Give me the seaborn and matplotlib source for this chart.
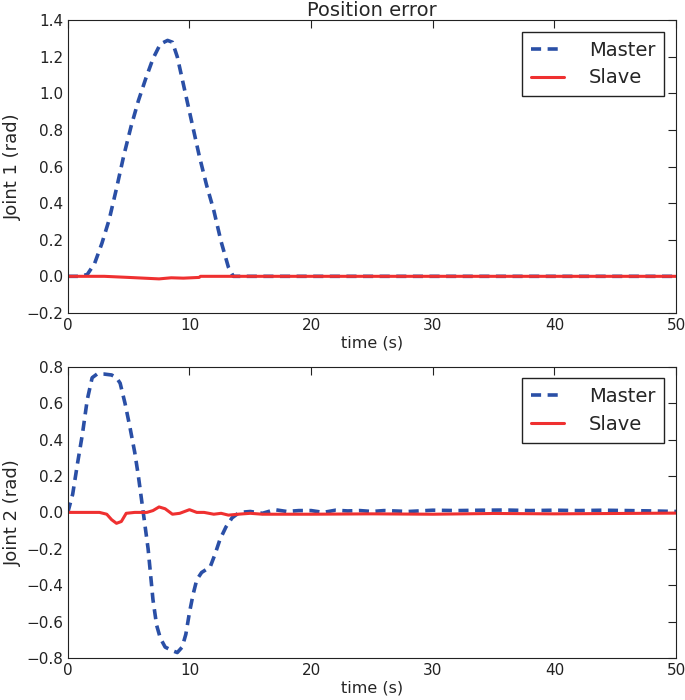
import pandas as pd
import matplotlib
matplotlib.use('Agg')
import matplotlib.pyplot as plt
import seaborn as sns

# ==================================================
# Dados
# ==================================================
t_master1 = [0, 1, 1.6, 2.2, 2.8, 3.4, 4.0, 4.6, 5.2, 5.8, 6.4, 7.0, 7.6, 8.2, 8.6,
             9.0, 9.6, 10.2, 10.8, 11.4, 12.0, 12.6, 13.2, 13.6, 14, 20, 30, 40, 50]
master1 = [0, 0, 0.01, 0.07, 0.18, 0.31, 0.48, 0.66, 0.82, 0.96, 1.08, 1.19, 1.27, 1.29, 1.28,
           1.20, 1.02, 0.84, 0.66, 0.50, 0.36, 0.19, 0.05, 0, 0, 0, 0, 0, 0]

t_slave1 = [0, 3, 5, 7.5, 8.5, 9.5, 10.8, 10.9, 20, 30, 40, 50]
slave1 = [0, 0, -0.006, -0.014, -0.008, -0.01, -0.006, 0.0, 0.0, 0.0, 0.0, 0.0]

t_master2 = [0, 0.4, 0.8, 1.2, 1.6, 2.0, 2.4, 3.0, 3.6, 4.0, 4.3, 4.7, 5.1, 5.5, 5.8,
             6.2, 6.6, 7.0, 7.3, 7.6, 8.0, 8.6, 9.0, 9.4, 9.7, 10.0, 10.3, 10.6, 11.0,
             11.7, 12.1, 12.5, 13.0, 13.5, 14.1, 15, 16, 17, 18, 19, 20, 21, 22, 23, 24,
             25, 26, 28, 30, 32, 34, 36, 38, 40, 42, 44, 46, 48, 50]
master2 = [0, 0.1, 0.27, 0.43, 0.62, 0.74, 0.76, 0.76, 0.755, 0.74, 0.71, 0.6, 0.47, 0.33, 0.20,
           0.0, -0.2, -0.48, -0.62, -0.69, -0.74, -0.76, -0.77, -0.74, -0.67, -0.55, -0.45, -0.37, -0.33,
           -0.30, -0.23, -0.15, -0.08, -0.03, 0.0, 0.005, -0.005, 0.015, 0.005, 0.01, 0.01, 0.0, 0.012, 0.008, 0.01,
           0.005, 0.01, 0.005, 0.012, 0.01, 0.012, 0.013, 0.01, 0.012, 0.01, 0.012, 0.01, 0.008, 0.005]

t_slave2 = [0, 2.6, 3.2, 3.6, 4.0, 4.4, 4.8, 5.5, 6.5, 7.0, 7.5, 8.0, 8.6, 9.2, 10.0, 10.6,
            11.2, 12.0, 12.6, 13.2, 14, 15, 16, 20, 25, 30, 35, 40, 45, 50]
slave2 = [0, 0, -0.01, -0.04, -0.06, -0.05, -0.005, 0, 0, 0.01, 0.03, 0.02, -0.01, -0.005, 0.015, 0.0,
          0.0, -0.01, -0.005, -0.015, -0.01, -0.005, -0.01, -0.01, -0.008, -0.01, -0.006, -0.008, -0.006, -0.004]

azul = '#2a4fa6'
vermelho = '#ef3030'

sns.set_style('white')
plt.rcParams['font.family'] = ['DejaVu Sans']
plt.rcParams['xtick.direction'] = 'in'
plt.rcParams['ytick.direction'] = 'in'
plt.rcParams['xtick.top'] = True
plt.rcParams['ytick.right'] = True

fig = plt.figure(figsize=(6.85, 7), dpi=100)
ax1 = fig.add_axes([0.099, 0.553, 0.888, 0.418])
ax2 = fig.add_axes([0.099, 0.06, 0.888, 0.416])


def desenhar(ax, tm, m, ts, s, ylabel, ylim, yticks):
    sns.lineplot(x=tm, y=m, ax=ax, color=azul, lw=2.6, label='Master')
    ax.lines[-1].set_dashes((2.8, 1.8))
    sns.lineplot(x=ts, y=s, ax=ax, color=vermelho, lw=2.2, label='Slave')
    ax.set_xlim(0, 50)
    ax.set_ylim(*ylim)
    ax.set_yticks(yticks)
    ax.set_xticks([0, 10, 20, 30, 40, 50])
    ax.set_xlabel('time (s)', fontsize=11.5, labelpad=2)
    ax.set_ylabel(ylabel, fontsize=13, labelpad=3)
    ax.tick_params(labelsize=11, length=6, colors='#222222')
    for sp in ax.spines.values():
        sp.set_color('#222222')
    leg = ax.legend(loc='upper right', fontsize=14, frameon=True, fancybox=False,
                    framealpha=1, edgecolor='#222222', handlelength=1.7,
                    borderpad=0.45, labelspacing=0.45, handletextpad=1.3,
                    borderaxespad=0.6)
    leg.get_frame().set_linewidth(1.0)


desenhar(ax1, t_master1, master1, t_slave1, slave1, 'Joint 1 (rad)', (-0.2, 1.4),
         [-0.2, 0.0, 0.2, 0.4, 0.6, 0.8, 1.0, 1.2, 1.4])
desenhar(ax2, t_master2, master2, t_slave2, slave2, 'Joint 2 (rad)', (-0.8, 0.8),
         [-0.8, -0.6, -0.4, -0.2, 0.0, 0.2, 0.4, 0.6, 0.8])
ax1.set_title('Position error', fontsize=14, pad=3)

fig.savefig('out.png', dpi=100)
